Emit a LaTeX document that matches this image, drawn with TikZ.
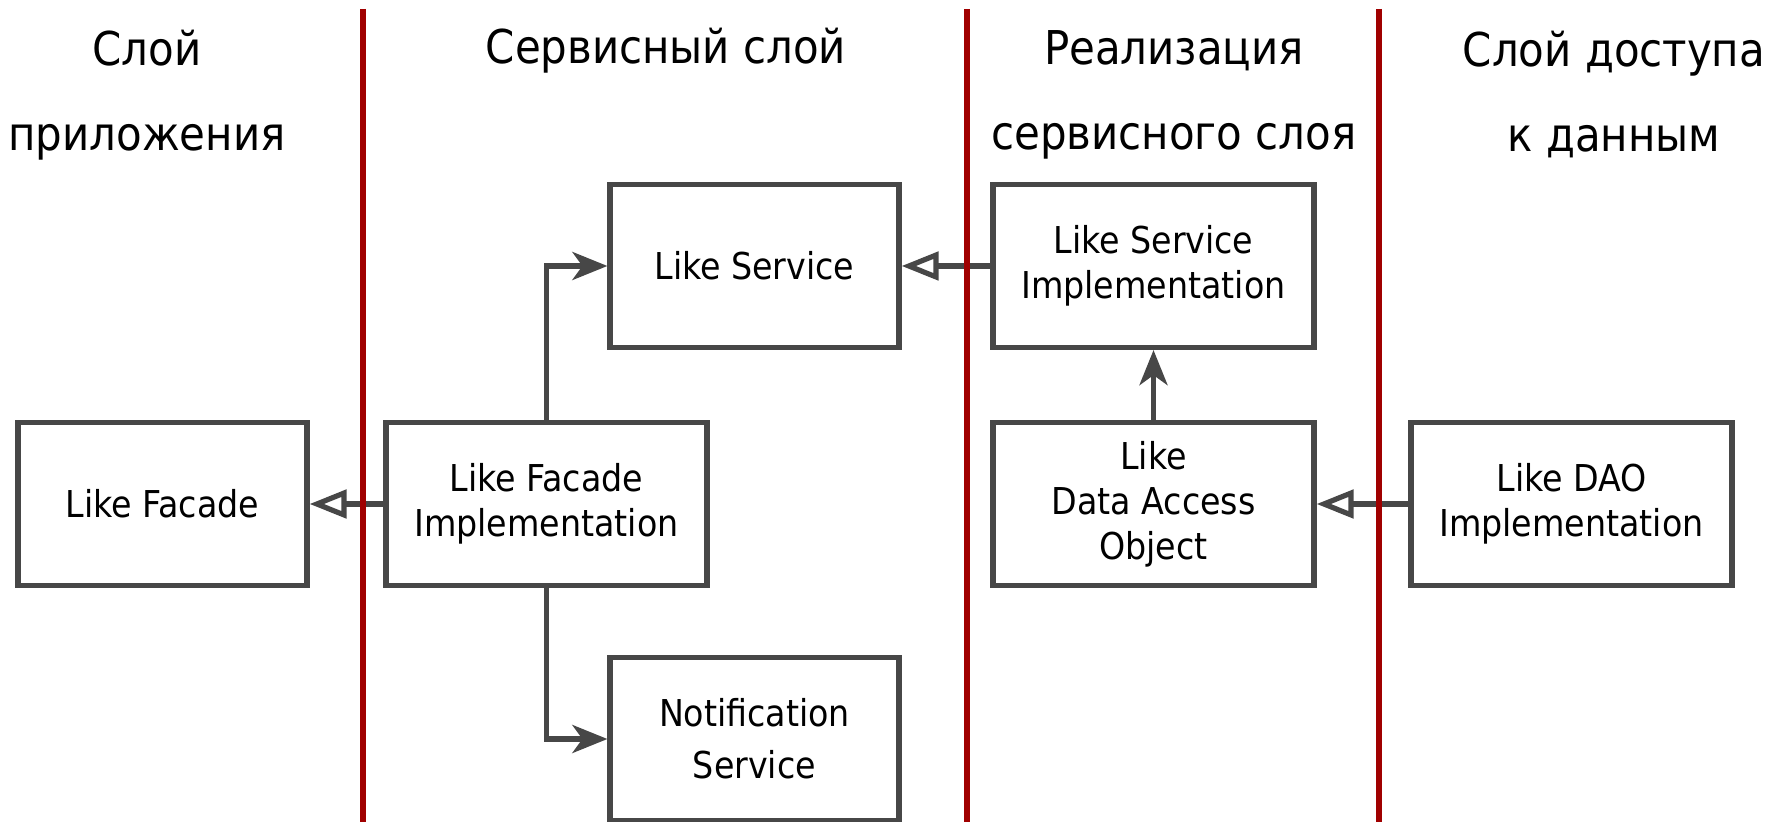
\documentclass[tikz,border=0pt]{standalone}
\usepackage{fontspec}
\setmainfont{DejaVu Sans Condensed}
\usetikzlibrary{arrows.meta}
\definecolor{boxgray}{HTML}{474747}
\definecolor{layerred}{HTML}{A00000}
\tikzset{
  box/.style={draw=boxgray, line width=2.6pt, fill=white, rectangle, align=center,
    inner sep=0pt, minimum height=81.5pt, font=\fontsize{18.5}{22.5}\selectfont},
  wbox/.style={box, minimum width=144.5pt},
  widebox/.style={box, minimum width=160.5pt},
  hdr/.style={align=center, font=\fontsize{23.3}{42.5}\selectfont, inner sep=0pt},
  conn/.style={draw=boxgray, line width=2.6pt},
  realize/.style={conn, -{Triangle[open, length=18.5pt, width=14pt, line width=2.6pt]}},
  use/.style={conn, -{Stealth[length=17.5pt, width=14pt, inset=5pt]}},
  layer/.style={draw=layerred, line width=2.6pt}
}
\begin{document}
\begin{tikzpicture}[x=0.5pt,y=-0.5pt]
\useasboundingbox (0,0) rectangle (1770,822);
% headers
\node[hdr] (h1) at (147,95) {Слой\\приложения};
\node[hdr] (h2) at (666,51) {Сервисный слой};
\node[hdr] (h3) at (1174,95) {Реализация\\сервисного слоя};
\node[hdr] (h4) at (1614,95) {Слой доступа\\к данным};
% boxes
\node[wbox] (facade) at (162.5,504) {Like Facade};
\node[widebox] (facadeimpl) at (546.5,504) {Like Facade\\Implementation};
\node[wbox] (service) at (754.5,266) {Like Service};
\node[wbox, font=\fontsize{18.5}{26}\selectfont] (notif) at (754.5,739) {Notification\\Service};
\node[widebox] (serviceimpl) at (1153.5,266) {Like Service\\Implementation};
\node[widebox] (dao) at (1153.5,504) {Like\\Data Access\\Object};
\node[widebox] (daoimpl) at (1571.5,504) {Like DAO\\Implementation};
% connectors
\draw[realize] (facadeimpl.west) -- (facade.east);
\draw[use] (facadeimpl.north) |- (service.west);
\draw[use] (facadeimpl.south) |- (notif.west);
\draw[realize] (serviceimpl.west) -- (service.east);
\draw[use] (dao.north) -- (serviceimpl.south);
\draw[realize] (daoimpl.west) -- (dao.east);
% layer separators
\coordinate (l1t) at (363,9); \coordinate (l1b) at (363,822);
\coordinate (l2t) at (967,9); \coordinate (l2b) at (967,822);
\coordinate (l3t) at (1379,9); \coordinate (l3b) at (1379,822);
\draw[layer] (l1t) -- (l1b);
\draw[layer] (l2t) -- (l2b);
\draw[layer] (l3t) -- (l3b);
\end{tikzpicture}
\end{document}
